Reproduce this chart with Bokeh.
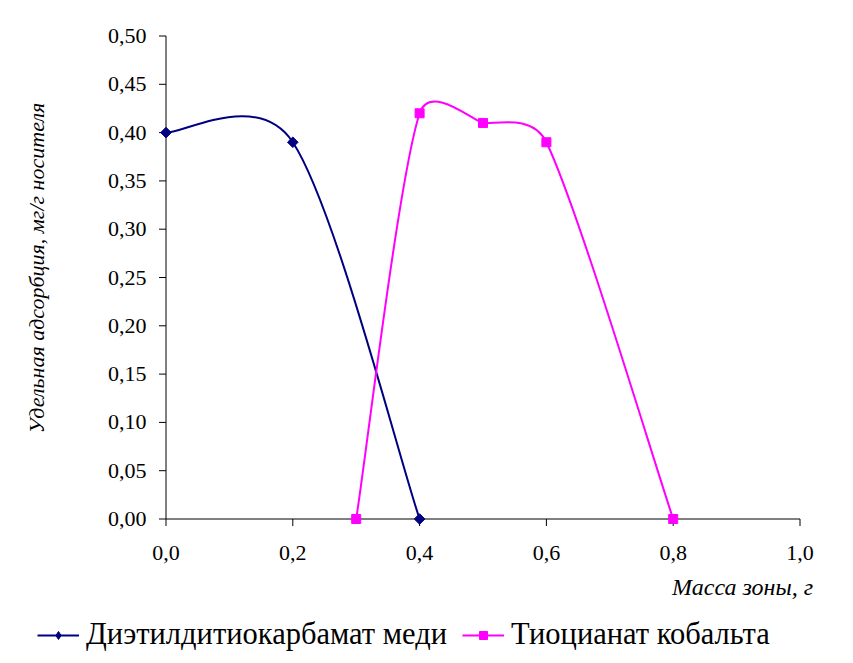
import math
from bokeh.plotting import figure
from bokeh.models import Range1d, Legend, LegendItem, ColumnDataSource
from bokeh.embed import file_html
from bokeh.resources import INLINE

# ---------------- data ----------------
mass_cu = [0.0, 0.2, 0.4]
ads_cu = [0.40, 0.39, 0.00]
mass_co = [0.3, 0.4, 0.5, 0.6, 0.8]
ads_co = [0.00, 0.42, 0.41, 0.39, 0.00]
name_cu = "Диэтилдитиокарбамат меди"
name_co = "Тиоцианат кобальта"
x_ticks = [0.0, 0.2, 0.4, 0.6, 0.8, 1.0]
x_tick_labels = ["0,0", "0,2", "0,4", "0,6", "0,8", "1,0"]
y_ticks = [0.00, 0.05, 0.10, 0.15, 0.20, 0.25, 0.30, 0.35, 0.40, 0.45, 0.50]
y_tick_labels = ["0,00", "0,05", "0,10", "0,15", "0,20", "0,25", "0,30",
                 "0,35", "0,40", "0,45", "0,50"]
x_title = "Масса зоны, г"
y_title = "Удельная адсорбция, мг/г носителя"

# ---------------- geometry (pixels of the 853x663 canvas) ----------------
W, H = 853, 663
XMIN, XMAX = 0.0, 1.0
YMIN, YMAX = 0.0, 0.5
AX_LEFT, AX_RIGHT = 165.5, 799.5     # where x = XMIN / XMAX fall
AX_BOTTOM, AX_TOP = 518.5, 35.5      # where y = YMIN / YMAX fall (from top)
kx = (AX_RIGHT - AX_LEFT) / (XMAX - XMIN)
ky = (AX_BOTTOM - AX_TOP) / (YMAX - YMIN)
TICK = 7

FONT = "Liberation Serif"
NAVY = "#000080"
MAGENTA = "#FF00FF"


def excel_smooth(xs, ys):
    """Bezier control points for an Excel-style smoothed line (screen space)."""
    P = [(x * kx, y * ky) for x, y in zip(xs, ys)]
    n = len(P)
    out = {k: [] for k in ("x0", "y0", "x1", "y1", "cx0", "cy0", "cx1", "cy1")}

    def d(a, b):
        return math.hypot(a[0] - b[0], a[1] - b[1])

    for i in range(n - 1):
        p0 = P[i - 1] if i > 0 else P[i]
        p1 = P[i]
        p2 = P[i + 1]
        p3 = P[i + 2] if i + 2 < n else P[i + 1]
        d12, d02, d13 = d(p1, p2), d(p0, p2), d(p1, p3)
        a = d02 / 6 >= d12 / 2
        b = d13 / 6 >= d12 / 2
        if not a and not b:
            f1 = f2 = 1 / 6
        elif a and b:
            f1, f2 = d12 / 2 / d02, d12 / 2 / d13
        elif a:
            f1 = f2 = d12 / 2 / d02
        else:
            f1 = f2 = d12 / 2 / d13
        b1 = (p1[0] + (p2[0] - p0[0]) * f1, p1[1] + (p2[1] - p0[1]) * f1)
        b2 = (p2[0] - (p3[0] - p1[0]) * f2, p2[1] - (p3[1] - p1[1]) * f2)
        out["x0"].append(p1[0] / kx); out["y0"].append(p1[1] / ky)
        out["x1"].append(p2[0] / kx); out["y1"].append(p2[1] / ky)
        out["cx0"].append(b1[0] / kx); out["cy0"].append(b1[1] / ky)
        out["cx1"].append(b2[0] / kx); out["cy1"].append(b2[1] / ky)
    return ColumnDataSource(out)


p = figure(width=W, height=H, output_backend="svg", toolbar_location=None,
           x_axis_type=None, y_axis_type=None,
           x_range=Range1d(XMIN - AX_LEFT / kx, XMAX + (W - AX_RIGHT) / kx),
           y_range=Range1d(YMIN - (H - AX_BOTTOM) / ky, YMAX + AX_TOP / ky),
           min_border_left=0, min_border_right=0,
           min_border_top=0, min_border_bottom=0)
p.outline_line_color = None
p.xgrid.visible = False
p.ygrid.visible = False
p.background_fill_color = "white"
p.border_fill_color = "white"

# ---------------- axes ----------------
p.segment(x0=[XMIN, XMIN], y0=[YMIN, YMIN], x1=[XMAX, XMIN], y1=[YMIN, YMAX],
          line_color="black", line_width=1)
p.ray(x=x_ticks, y=[YMIN] * len(x_ticks), length=TICK, length_units="screen",
      angle=-math.pi / 2, line_color="black", line_width=1)
p.ray(x=[XMIN] * len(y_ticks), y=y_ticks, length=TICK, length_units="screen",
      angle=math.pi, line_color="black", line_width=1)

tick_style = dict(text_font=FONT, text_font_size="22px", text_color="black")
p.text(x=x_ticks, y=[YMIN] * len(x_ticks), text=x_tick_labels,
       y_offset=34, text_align="center", text_baseline="middle", **tick_style)
p.text(x=[XMIN] * len(y_ticks), y=y_ticks, text=y_tick_labels,
       x_offset=-19.5, text_align="right", text_baseline="middle", **tick_style)

p.text(x=[XMIN], y=[(YMIN + YMAX) / 2], text=[y_title], angle=math.pi / 2,
       x_offset=-129.5, y_offset=-9.5, text_align="center", text_baseline="middle",
       text_font=FONT, text_font_style="italic", text_font_size="22px",
       text_color="black")
p.text(x=[XMAX], y=[YMIN], text=[x_title], x_offset=13, y_offset=68,
       text_align="right", text_baseline="middle",
       text_font=FONT, text_font_style="italic", text_font_size="24px",
       text_color="black")

# ---------------- series ----------------
r_cu_line = p.bezier(x0="x0", y0="y0", x1="x1", y1="y1", cx0="cx0", cy0="cy0",
                     cx1="cx1", cy1="cy1", source=excel_smooth(mass_cu, ads_cu),
                     line_color=NAVY, line_width=2)
r_co_line = p.bezier(x0="x0", y0="y0", x1="x1", y1="y1", cx0="cx0", cy0="cy0",
                     cx1="cx1", cy1="cy1", source=excel_smooth(mass_co, ads_co),
                     line_color=MAGENTA, line_width=2)
# diamonds on the chart: squares turned by 45 degrees
p.scatter(mass_cu, ads_cu, marker="square", angle=math.pi / 4,
          size=7.5, fill_color=NAVY, line_color=NAVY)
r_co_pts = p.scatter(mass_co, ads_co, marker="square", size=9,
                     fill_color=MAGENTA, line_color=MAGENTA)
# diamond symbol for the legend (not drawn on the chart)
r_cu_key = p.scatter(mass_cu, ads_cu, marker="diamond", size=11,
                     fill_color=NAVY, line_color=NAVY, visible=False)

legend = Legend(items=[LegendItem(label=name_cu, renderers=[r_cu_line, r_cu_key]),
                       LegendItem(label=name_co, renderers=[r_co_line, r_co_pts])],
                orientation="horizontal", location=(37, 11),
                border_line_color=None, background_fill_alpha=0,
                padding=0, margin=0, spacing=15, glyph_width=42,
                glyph_height=20, label_standoff=7,
                label_text_font=FONT, label_text_font_size="30.5px",
                label_text_color="black")
p.add_layout(legend)

open("out.html", "w").write(file_html(p, INLINE))
